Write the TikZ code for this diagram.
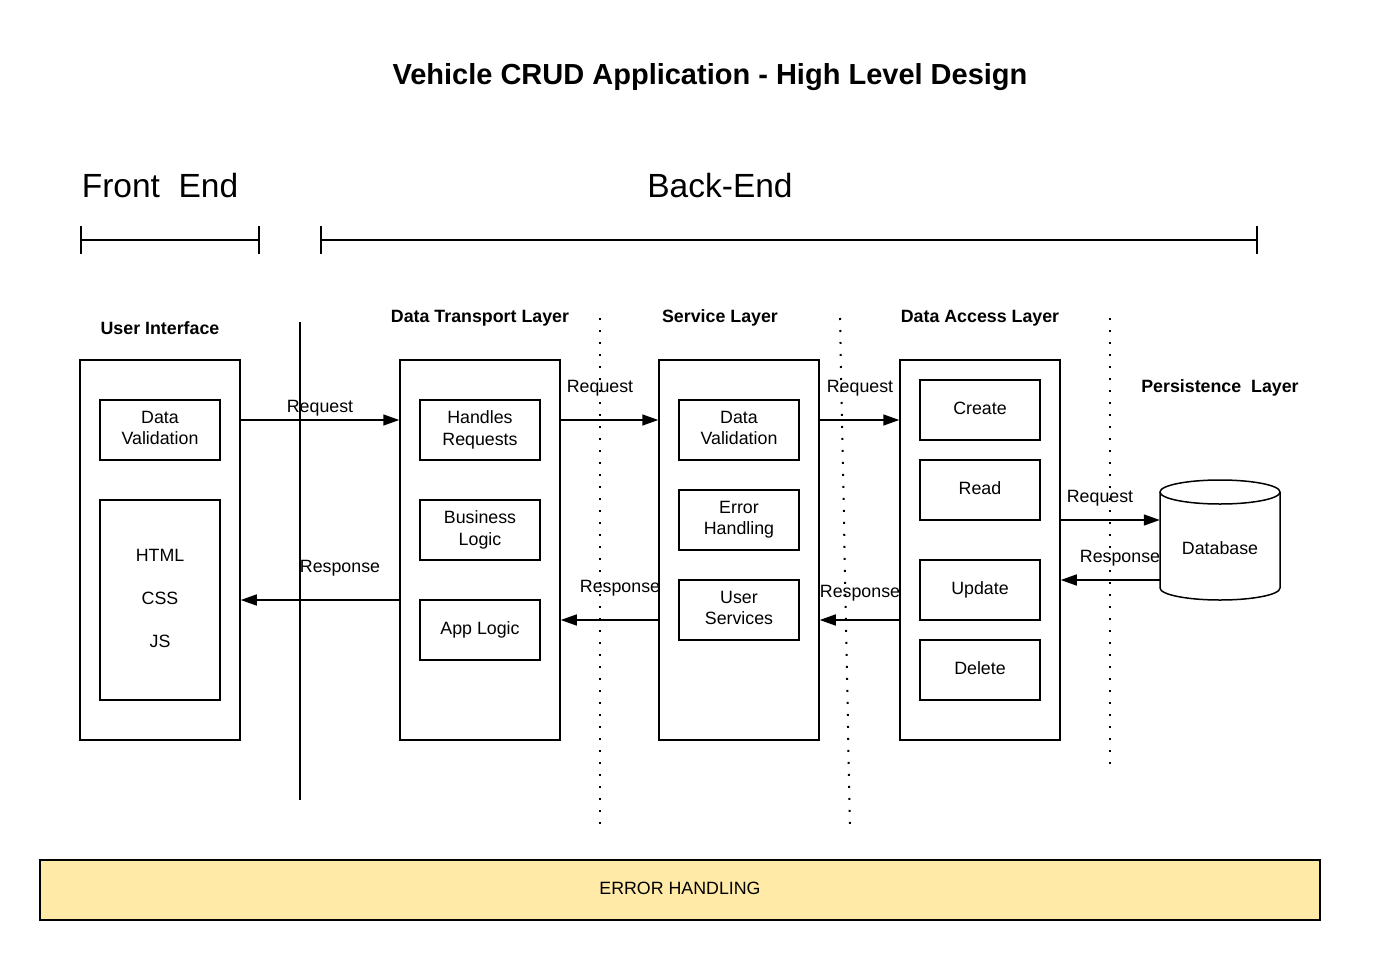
\documentclass[tikz,border=0pt]{standalone}
\usepackage{fontspec}
\setmainfont{Liberation Sans}
\usetikzlibrary{arrows.meta}
\definecolor{ehfill}{RGB}{255,234,167}
\begin{document}
\begin{tikzpicture}[x=1pt,y=-1pt,
  every node/.style={font=\fontsize{17.8}{21.5}\selectfont},
  bx/.style={draw,line width=1.5pt,align=center,inner sep=0pt},
  lbl/.style={font=\fontsize{17.8}{21.5}\selectfont\bfseries},
  arr/.style={line width=1.5pt,-{Triangle[length=16pt,width=11pt]}},
  dots/.style={line width=2pt,dash pattern=on 2pt off 10pt},
  solidline/.style={line width=1.5pt}]
\useasboundingbox (0,0) rectangle (1380,960);

% title and section headers
\node[font=\fontsize{29}{34}\selectfont\bfseries] (title) at (710,77) {Vehicle CRUD Application - High Level Design};
\node[font=\fontsize{33.5}{38}\selectfont] (fe) at (160,186) {Front\ \ End};
\node[font=\fontsize{33.5}{38}\selectfont] (be) at (720,186) {Back-End};
\draw[solidline] (81,226) -- (81,254) (81,240) -- (259,240) (259,226) -- (259,254);
\draw[solidline] (321,226) -- (321,254) (321,240) -- (1257,240) (1257,226) -- (1257,254);

% layer labels
\node[lbl] (uil) at (160,328) {User Interface};
\node[lbl] (dtll) at (480,318) {Data Transport Layer};
\node[lbl] (sll) at (720,318) {Service Layer};
\node[lbl] (dall) at (980,318) {Data Access Layer};
\node[lbl] (pll) at (1220,388) {Persistence\ \ Layer};

% separators
\draw[solidline] (300,322) -- (300,800);
\draw[dots] (600,318) -- (600,830);
\draw[dots] (840,318) -- (850,830);
\draw[dots] (1110,318) -- (1110,766);

% User interface
\node[bx,minimum width=160,minimum height=380] (ui) at (160,550) {};
\node[bx,minimum width=120,minimum height=60] (uidv) at (160,430) {Data\\Validation\rule[-4pt]{0pt}{0pt}};
\node[bx,minimum width=120,minimum height=200] (uihtml) at (160,600) {HTML\\[21.5pt]CSS\\[21.5pt]JS\rule[-4pt]{0pt}{0pt}};

% Data transport layer
\node[bx,minimum width=160,minimum height=380] (dtl) at (480,550) {};
\node[bx,minimum width=120,minimum height=60] (hr) at (480,430) {Handles\\Requests\rule[-4pt]{0pt}{0pt}};
\node[bx,minimum width=120,minimum height=60] (bl) at (480,530) {Business\\Logic\rule[-4pt]{0pt}{0pt}};
\node[bx,minimum width=120,minimum height=60] (al) at (480,630) {App Logic\rule[-4pt]{0pt}{0pt}};

% Service layer
\node[bx,minimum width=160,minimum height=380] (sl) at (739,550) {};
\node[bx,minimum width=120,minimum height=60] (sldv) at (739,430) {Data\\Validation\rule[-4pt]{0pt}{0pt}};
\node[bx,minimum width=120,minimum height=60] (eh1) at (739,520) {Error\\Handling\rule[-4pt]{0pt}{0pt}};
\node[bx,minimum width=120,minimum height=60] (us) at (739,610) {User\\Services\rule[-4pt]{0pt}{0pt}};

% Data access layer
\node[bx,minimum width=160,minimum height=380] (dal) at (980,550) {};
\node[bx,minimum width=120,minimum height=60] (cr) at (980,410) {Create\rule[-4pt]{0pt}{0pt}};
\node[bx,minimum width=120,minimum height=60] (rd) at (980,490) {Read\rule[-4pt]{0pt}{0pt}};
\node[bx,minimum width=120,minimum height=60] (up) at (980,590) {Update\rule[-4pt]{0pt}{0pt}};
\node[bx,minimum width=120,minimum height=60] (dl) at (980,670) {Delete\rule[-4pt]{0pt}{0pt}};

% Database
\draw[solidline,fill=white] (1160,492) -- (1160,588) arc[start angle=180,end angle=0,x radius=60,y radius=12] -- (1280,492);
\draw[solidline,fill=white] (1220,492) ellipse [x radius=60,y radius=12];
\node[inner sep=0pt,minimum width=120,minimum height=120] (db) at (1220,548) {Database};

% connectors
\draw[arr] (ui.east |- 0,420) -- (dtl.west |- 0,420);
\node (r1) at (320,408) {Request};
\draw[arr] (dtl.west |- 0,600) -- (ui.east |- 0,600);
\node (s1) at (340,568) {Response};

\draw[arr] (dtl.east |- 0,420) -- (sl.west |- 0,420);
\node (r2) at (600,388) {Request};
\draw[arr] (sl.west |- 0,620) -- (dtl.east |- 0,620);
\node (s2) at (620,588) {Response};

\draw[arr] (sl.east |- 0,420) -- (dal.west |- 0,420);
\node (r3) at (860,388) {Request};
\draw[arr] (dal.west |- 0,620) -- (sl.east |- 0,620);
\node (s3) at (860,593) {Response};

\draw[arr] (dal.east |- 0,520) -- (db.west |- 0,520);
\node (r4) at (1100,498) {Request};
\draw[arr] (db.west |- 0,580) -- (dal.east |- 0,580);
\node (s4) at (1120,558) {Response};

% Error handling bar
\node[draw,line width=1.5pt,fill=ehfill,minimum width=1280,minimum height=60,inner sep=0pt] (ehbar) at (680,890) {ERROR HANDLING\rule[-4pt]{0pt}{0pt}};
\end{tikzpicture}
\end{document}
